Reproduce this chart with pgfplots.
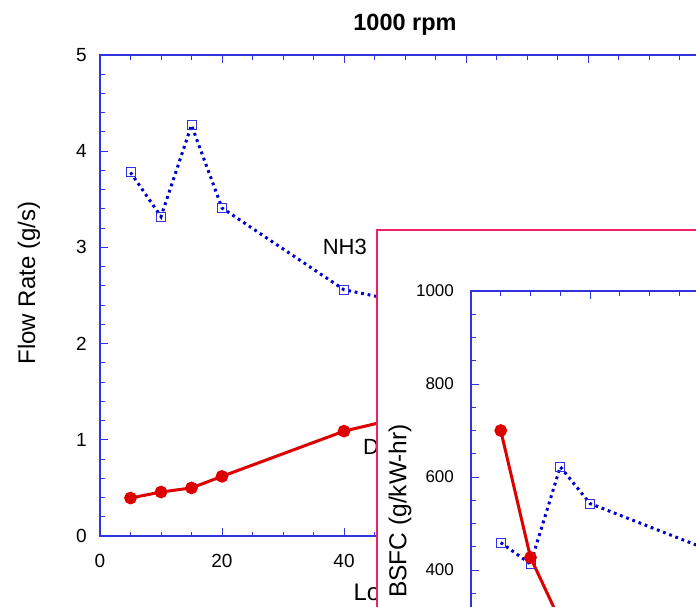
\documentclass[border=0pt]{standalone}
\usepackage{fontspec}
\setmainfont{Liberation Sans}
\usepackage{pgfplots}
\pgfplotsset{compat=1.18}
\definecolor{axblue}{RGB}{50,50,225}
\definecolor{serblue}{RGB}{0,0,205}
\definecolor{serred}{RGB}{222,0,0}
\definecolor{pinkb}{RGB}{240,30,100}
\pgfplotsset{
  myaxis/.style={
    scale only axis,
    tick align=inside, tick pos=both, xticklabel pos=lower, yticklabel pos=left,
    major tick length=8pt, minor tick length=4.5pt,
    axis line style={axblue, line width=1.1pt},
    tick style={axblue, line width=1pt},
    /pgf/number format/assume math mode=true,
    /pgf/number format/1000 sep={},
  },
  nh3/.style={serblue, line width=3pt, dash pattern=on 2.8pt off 3.8pt,
    mark=square, mark size=4.5pt, mark options={solid, draw=axblue, line width=1pt, fill=none}},
  dsl/.style={serred, line width=3pt, mark=*, mark size=4.8pt, mark options={solid, fill=serred}},
}
\begin{document}
\begin{tikzpicture}
\useasboundingbox (0,0) rectangle (696pt,-606pt);
\clip (0,0) rectangle (696pt,-606pt);
\begin{axis}[myaxis,
  at={(100pt,-536pt)}, anchor=south west,
  width=610pt, height=481pt,
  xmin=0, xmax=100, ymin=0, ymax=5,
  xtick={0,20,...,100}, ytick={0,1,...,5},
  minor x tick num=3, minor y tick num=4,
  tick label style={font=\fontsize{19}{22}\selectfont},
  xticklabel style={yshift=-15pt},
  yticklabel style={xshift=-9.7pt},
  title={1000 rpm},
  title style={font=\fontsize{23.5}{28}\selectfont\bfseries, at={([yshift=19pt]axis description cs:0.5,1)}, anchor=base},
  xlabel={Load (kW)},
  xlabel style={font=\fontsize{24}{28}\selectfont, at={([xshift=250pt,yshift=-64pt]axis description cs:0,0)}, anchor=base west},
  ylabel={Flow Rate (g/s)},
  ylabel style={font=\fontsize{24}{28}\selectfont, at={([xshift=-71pt]axis description cs:0,0.526)}, anchor=center},
]
\addplot[nh3] coordinates {(5,3.78) (10,3.32) (15,4.27) (20,3.41) (40,2.56) (60,2.30) (80,2.15)};
\addplot[dsl] coordinates {(5,0.395) (10,0.457) (15,0.50) (20,0.62) (40,1.09) (60,1.39) (80,1.70)};
\node[anchor=west, inner sep=0pt, font=\fontsize{22}{26}\selectfont] at (axis cs:36.5,3.0) {NH3};
\node[anchor=west, inner sep=0pt, font=\fontsize{22}{26}\selectfont] at (axis cs:43.1,0.925) {Diesel};
\end{axis}
\draw[pinkb, line width=2pt, fill=white] (377pt,-230pt) rectangle (1000pt,-1000pt);
\begin{axis}[myaxis,
  at={(471pt,-291pt)}, anchor=north west,
  width=595pt, height=441.75pt,
  xmin=0, xmax=100, ymin=50, ymax=1000,
  xtick={0,20,...,100}, ytick={200,400,...,1000},
  xticklabels={},
  minor x tick num=3, minor y tick num=3,
  tick label style={font=\fontsize{17}{20}\selectfont},
  yticklabel style={xshift=-13.6pt},
  ylabel={BSFC (g/kW-hr)},
  ylabel style={font=\fontsize{24.5}{28}\selectfont, at={([xshift=-71pt]axis description cs:0,0.502)}, anchor=center},
]
\addplot[nh3] coordinates {(5,459) (10,413) (15,622) (20,543) (40,443) (60,420) (80,400)};
\addplot[dsl] coordinates {(5,700) (10,427) (15,290) (20,255) (40,230) (60,220) (80,215)};
\end{axis}
\end{tikzpicture}
\end{document}
